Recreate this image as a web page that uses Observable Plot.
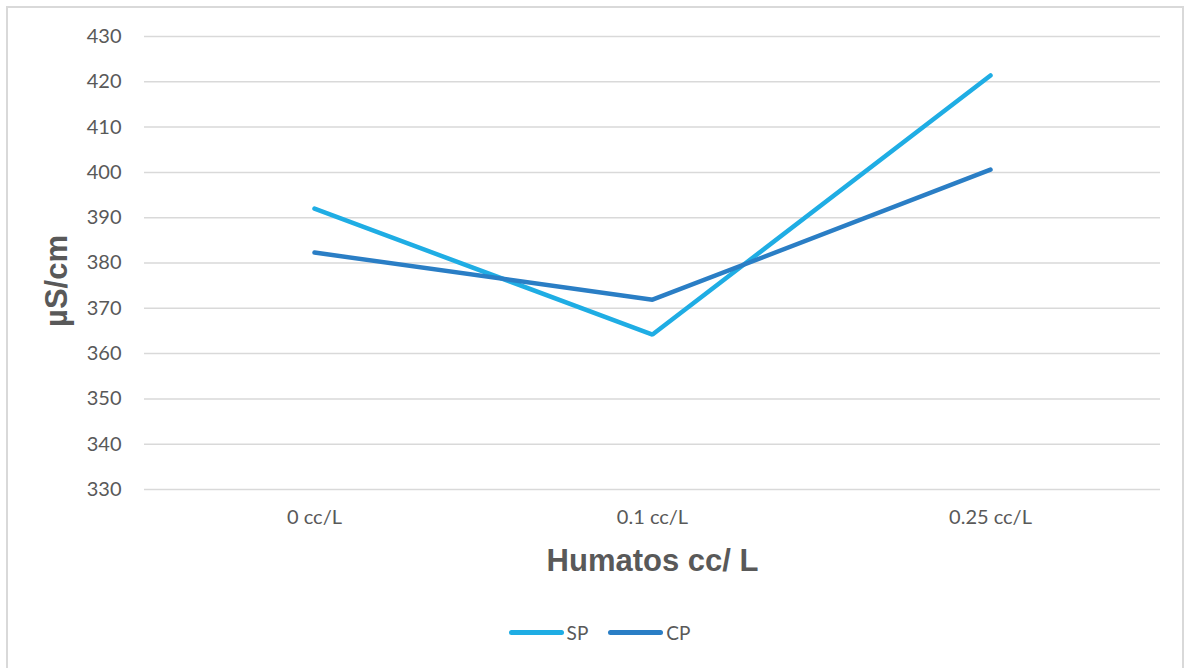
<!DOCTYPE html>
<html>
<head>
<meta charset="utf-8">
<script src="https://cdn.jsdelivr.net/npm/d3@7"></script>
<script src="https://cdn.jsdelivr.net/npm/@observablehq/plot@0.6"></script>
<style>
  html, body { margin: 0; padding: 0; background: #fff; }
  #wrap { position: relative; width: 1189px; height: 668px; overflow: hidden; }
  #frame { position: absolute; left: 6px; top: 6px; width: 1178px; height: 700px; border: 2px solid #d9d9d9; box-sizing: border-box; }
  #chart { position: absolute; left: 0; top: 0; }
  #legend { position: absolute; top: 621px; left: 0; width: 1189px; display: flex; justify-content: center; font-family: Lato, "Open Sans", sans-serif; font-size: 19px; color: #595959; padding-left: 10px; box-sizing: border-box; }
  .item { display: flex; align-items: center; margin: 0 10px; }
  .sw { width: 55px; height: 5px; border-radius: 3px; margin-right: 3px; }
</style>
</head>
<body>
<div id="wrap">
  <div id="frame"></div>
  <div id="chart"></div>
  <div id="legend"></div>
</div>
<script>
const categories = ["0 cc/L", "0.1 cc/L", "0.25 cc/L"];
const seriesNames = ["SP", "CP"];
const spValues = [392.0, 364.2, 421.4];
const cpValues = [382.3, 371.9, 400.6];
const yTicks = [330, 340, 350, 360, 370, 380, 390, 400, 410, 420, 430];
const colors = { SP: "#1FADE4", CP: "#2A7EC5" };

const data = [];
categories.forEach((c, i) => {
  data.push({ cat: c, series: "SP", value: spValues[i] });
});
categories.forEach((c, i) => {
  data.push({ cat: c, series: "CP", value: cpValues[i] });
});

const plot = Plot.plot({
  width: 1189,
  height: 610,
  marginLeft: 144,
  marginRight: 29,
  marginTop: 36,
  marginBottom: 121,
  style: { fontFamily: "Lato, 'Open Sans', sans-serif", color: "#595959", background: "transparent" },
  x: { type: "point", domain: categories, padding: 0.5 },
  y: { domain: [330, 430] },
  color: { domain: seriesNames, range: seriesNames.map(s => colors[s]) },
  marks: [
    Plot.ruleY(yTicks, { stroke: "#d9d9d9", strokeWidth: 1.5 }),
    Plot.axisY({ ticks: yTicks, tickSize: 0, tickPadding: 23, fontSize: 20, fill: "#595959", label: null }),
    Plot.axisX({ tickSize: 0, tickPadding: 20, fontSize: 20, fill: "#595959", label: null }),
    Plot.line(data, { x: "cat", y: "value", z: "series", stroke: "series", strokeWidth: 4.5, strokeLinecap: "round", strokeLinejoin: "miter" }),
    Plot.text(["Humatos cc/ L"], { frameAnchor: "bottom", dy: 72, fontSize: 31, fontWeight: "bold", fontFamily: "'Liberation Sans', Arial, sans-serif", fill: "#595959", lineAnchor: "middle" }),
    Plot.text(["µS/cm"], { frameAnchor: "left", dx: -87, dy: 18, rotate: -90, fontSize: 31, fontWeight: "bold", fontFamily: "'Liberation Sans', Arial, sans-serif", fill: "#595959", lineAnchor: "middle", textAnchor: "middle" })
  ]
});
document.getElementById("chart").appendChild(plot);

const legend = document.getElementById("legend");
seriesNames.forEach(s => {
  const it = document.createElement("div");
  it.className = "item";
  const sw = document.createElement("div");
  sw.className = "sw";
  sw.style.background = colors[s];
  const tx = document.createElement("span");
  tx.textContent = s;
  it.appendChild(sw);
  it.appendChild(tx);
  legend.appendChild(it);
});
</script>
</body>
</html>
